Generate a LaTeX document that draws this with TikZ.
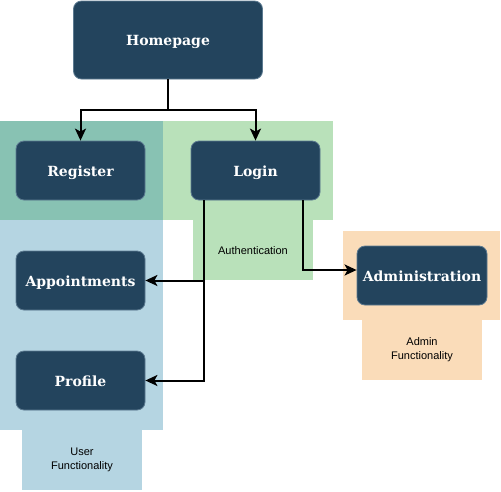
\documentclass[tikz,border=0pt]{standalone}
\usepackage{fontspec}
\setmainfont{Liberation Sans}
\newfontfamily\boxfont{DejaVu Serif}
\usetikzlibrary{arrows.meta}
\definecolor{darkbox}{HTML}{23445D}
\definecolor{boxline}{HTML}{5C7A90}
\definecolor{bgblue}{HTML}{B5D5E2}
\definecolor{bggreen}{HTML}{B9E1BA}
\definecolor{bgteal}{HTML}{88C2B3}
\definecolor{bgorange}{HTML}{FADCB9}
\tikzset{
  pagebox/.style={draw=boxline, line width=0.8pt, fill=darkbox, rounded corners=8pt, text=white, font=\boxfont\bfseries\fontsize{14}{16}\selectfont, inner sep=0pt, text height=11pt, text depth=0pt},
  caption/.style={font=\fontsize{11}{14}\selectfont, align=center, inner sep=0pt},
  link/.style={line width=2pt, -{Stealth[length=12pt,width=11pt,inset=3pt]}}
}
\begin{document}
\begin{tikzpicture}[x=1pt,y=-1pt]
\useasboundingbox (0,0) rectangle (501,491);
% regions
\fill[bgteal] (0,121) rectangle (163,220);
\fill[bggreen] (163,121) rectangle (333,220);
\fill[bggreen] (193,220) rectangle (313,280);
\fill[bgblue] (0,220) rectangle (163,430);
\fill[bgblue] (22,430) rectangle (142,490);
\fill[bgorange] (343,231) rectangle (500,320);
\fill[bgorange] (362,320) rectangle (482,380);
\node[caption] (auth) at (253,250.5) {Authentication};
\node[caption] (userf) at (82,460) {User\\Functionality};
\node[caption] (adminf) at (422,350) {Admin\\Functionality};
% boxes
\node[pagebox, minimum width=189pt, minimum height=78pt] (home) at (168,40) {Homepage};
\node[pagebox, minimum width=129pt, minimum height=59pt] (reg) at (80.5,170.5) {Register};
\node[pagebox, minimum width=129pt, minimum height=59pt] (login) at (255.5,170.5) {Login};
\node[pagebox, minimum width=129pt, minimum height=59pt] (appt) at (80.5,280.5) {Appointments};
\node[pagebox, minimum width=129pt, minimum height=59pt] (prof) at (80.5,380.5) {Profile};
\node[pagebox, minimum width=130pt, minimum height=59pt] (admin) at (422,275.5) {Administration};
% connectors
\coordinate (split) at (168,110);
\draw[line width=2pt] (home.south) -- (split);
\draw[link] (split) -| (reg.north);
\draw[link] (split) -| (login.north);
\draw[link] ([xshift=-51.5pt]login.south) |- (appt.east);
\draw[link] ([xshift=-51.5pt]login.south) |- (prof.east);
\draw[link] ([xshift=47.5pt]login.south) |- ([yshift=5.5pt]admin.west);
\end{tikzpicture}
\end{document}
